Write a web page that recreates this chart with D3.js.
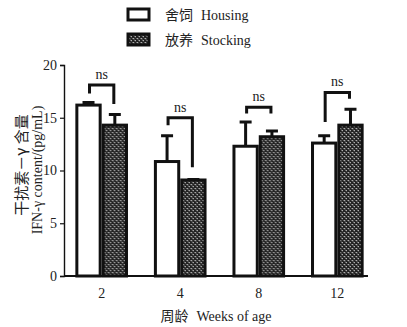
<!DOCTYPE html>
<html>
<head>
<meta charset="utf-8">
<script src="https://cdn.jsdelivr.net/npm/d3@7"></script>
<style>
  body { margin: 0; background: #fff; }
  text { font-family: "Liberation Serif", "Noto Sans CJK SC", serif; fill: #222; }
  .cjk { font-family: "Noto Sans CJK SC", sans-serif; }
</style>
</head>
<body>
<div id="chart"></div>
<script>
// weeks of age and IFN-gamma means / upper error values (pg/mL)
var weeks = ["2", "4", "8", "12"];
var housing = [16.2, 10.85, 12.3, 12.6];
var housingErr = [16.45, 13.3, 14.6, 13.3];
var stocking = [14.3, 9.1, 13.2, 14.3];
var stockingErr = [15.3, 9.15, 13.75, 15.8];
var yTicks = [0, 5, 10, 15, 20];
// "ns" brackets: top of bracket, bottom of left leg, bottom of right leg
var bracketTop = [18.1, 15.0, 16.0, 17.4];
var bracketLeft = [17.3, 14.3, 15.4, 14.6];
var bracketRight = [16.3, 10.3, 15.4, 16.8];

var svgWidth = 407, svgHeight = 327;
var margin = { top: 65, left: 64, bottom: 51 };
var plotBottom = svgHeight - margin.bottom;

var svg = d3.select("#chart").append("svg")
  .attr("width", svgWidth)
  .attr("height", svgHeight);

// pattern for the stocking bars: dark fill with light speckles
var defs = svg.append("defs");
var pat = defs.append("pattern")
  .attr("id", "speckle")
  .attr("patternUnits", "userSpaceOnUse")
  .attr("width", 4).attr("height", 4);
pat.append("rect").attr("width", 4).attr("height", 4).attr("fill", "#222");
pat.append("path").attr("d", "M0.5,0.5h1.5v1M2.5,2.5h1.5v1")
  .attr("stroke", "#bbb").attr("stroke-width", 0.9).attr("fill", "none");

var x0 = d3.scaleBand()
  .domain(weeks)
  .range([62, 377])
  .paddingInner(0.33)
  .paddingOuter(0.17);
var x1 = d3.scaleBand()
  .domain(["housing", "stocking"])
  .range([0, x0.bandwidth()]);
var y = d3.scaleLinear()
  .domain([0, 20])
  .range([plotBottom, margin.top]);

// axes
var yAxis = d3.axisLeft(y).tickValues(yTicks).tickSize(4).tickPadding(3);
var gy = svg.append("g")
  .attr("transform", `translate(${margin.left},0)`)
  .call(yAxis);
gy.select(".domain").attr("stroke", "#111").attr("stroke-width", 1.4);
gy.selectAll(".tick line").attr("stroke", "#111").attr("stroke-width", 1.2);
gy.selectAll(".tick text").style("font-size", "14px").attr("fill", "#222")
  .style("font-family", "Liberation Serif, serif");

var groups = weeks.map(function (w, i) {
  return { week: w, i: i };
});

var g = svg.append("g").selectAll("g")
  .data(groups)
  .enter().append("g")
  .attr("transform", d => `translate(${x0(d.week)},0)`);

function drawBars(key, vals, errs, fill) {
  // error bar first so the bar outline covers its foot
  g.append("path")
    .attr("d", function (d) {
      var cx = x1(key) + x1.bandwidth() / 2;
      var top = y(errs[d.i]);
      return `M${cx},${y(vals[d.i])}V${top}M${cx - 6},${top}H${cx + 6}`;
    })
    .attr("stroke", "#111")
    .attr("stroke-width", 3)
    .attr("fill", "none");
  g.append("rect")
    .attr("x", x1(key) + 1.5)
    .attr("y", d => y(vals[d.i]))
    .attr("width", x1.bandwidth() - 3)
    .attr("height", d => plotBottom - y(vals[d.i]))
    .attr("fill", fill)
    .attr("stroke", "#111")
    .attr("stroke-width", 3);
}
drawBars("housing", housing, housingErr, "#fff");
drawBars("stocking", stocking, stockingErr, "url(#speckle)");

// significance brackets
g.append("path")
  .attr("d", function (d) {
    var l = x1("housing") + x1.bandwidth() / 2 + 1;
    var r = x1("stocking") + x1.bandwidth() / 2 - 1;
    return `M${l},${y(bracketLeft[d.i])}V${y(bracketTop[d.i])}H${r}V${y(bracketRight[d.i])}`;
  })
  .attr("stroke", "#111")
  .attr("stroke-width", 3)
  .attr("fill", "none");
g.append("text")
  .attr("x", x0.bandwidth() / 2)
  .attr("y", d => y(bracketTop[d.i]) - 6)
  .attr("text-anchor", "middle")
  .style("font-size", "14px")
  .text("ns");

// x axis line and labels
svg.append("line")
  .attr("x1", margin.left).attr("x2", 368)
  .attr("y1", plotBottom).attr("y2", plotBottom)
  .attr("stroke", "#111").attr("stroke-width", 2);
svg.append("g").selectAll("text")
  .data(weeks)
  .enter().append("text")
  .attr("x", d => x0(d) + x0.bandwidth() / 2)
  .attr("y", plotBottom + 22)
  .attr("text-anchor", "middle")
  .style("font-size", "14px")
  .text(d => d);

var xt = svg.append("text")
  .attr("x", 216).attr("y", 321)
  .attr("text-anchor", "middle")
  .style("font-size", "14px");
xt.append("tspan").attr("class", "cjk").text("周龄");
xt.append("tspan").attr("dx", 8).text("Weeks of age");

// y axis titles
svg.append("text")
  .attr("class", "cjk")
  .attr("transform", "translate(27,165) rotate(-90)")
  .attr("text-anchor", "middle")
  .style("font-size", "15px")
  .text("干扰素－γ 含量");
svg.append("text")
  .attr("transform", "translate(42,170) rotate(-90)")
  .attr("text-anchor", "middle")
  .style("font-size", "14px")
  .text("IFN-γ content/(pg/mL)");

// legend
var legendItems = [
  { cn: "舍饲", en: "Housing", fill: "#fff" },
  { cn: "放养", en: "Stocking", fill: "url(#speckle)" }
];
var lg = svg.append("g").selectAll("g")
  .data(legendItems)
  .enter().append("g")
  .attr("transform", (d, i) => `translate(128,${9 + i * 25})`);
lg.append("rect")
  .attr("width", 21).attr("height", 11)
  .attr("fill", d => d.fill)
  .attr("stroke", "#111")
  .attr("stroke-width", 3);
var lt = lg.append("text")
  .attr("x", 37).attr("y", 11)
  .style("font-size", "14px");
lt.append("tspan").attr("class", "cjk").text(d => d.cn);
lt.append("tspan").attr("dx", 8).text(d => d.en);
</script>
</body>
</html>
